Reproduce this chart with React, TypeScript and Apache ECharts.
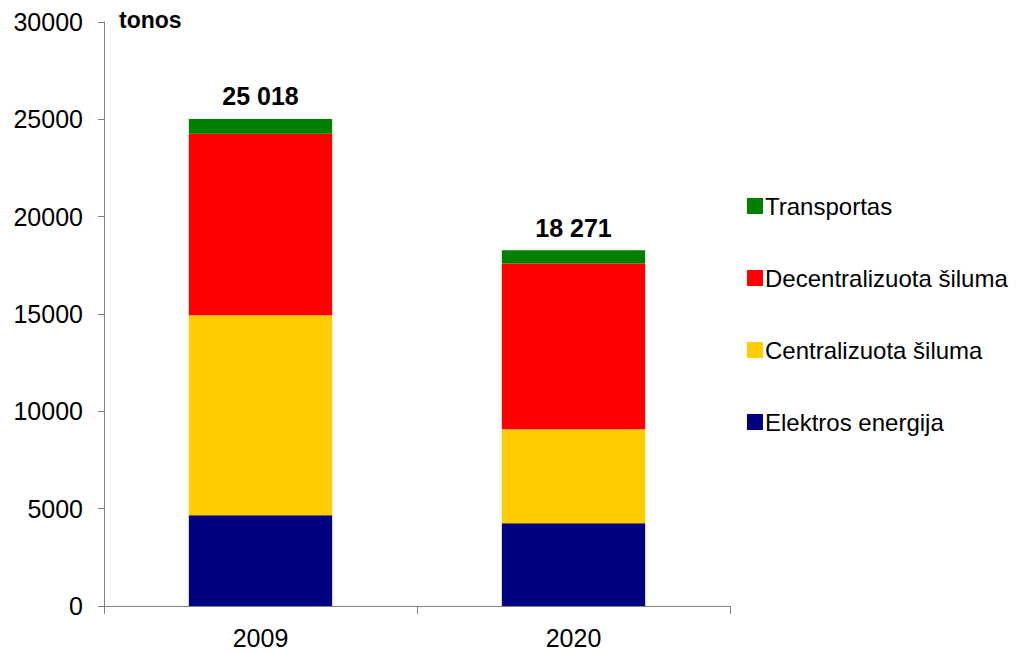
import React, { useEffect, useRef } from "react";
import * as echarts from "echarts";

const categories = ["2009", "2020"];
const elektros = [4660, 4250];
const centralizuota = [10270, 4825];
const decentralizuota = [9330, 8525];
const transportas = [758, 671];
const totals = [25018, 18271];
const yTicks = { min: 0, max: 30000, interval: 5000 };

const FONT = "'Liberation Sans', Arial, sans-serif";

export default function App() {
  const ref = useRef<HTMLDivElement>(null);
  useEffect(() => {
    if (!ref.current) return;
    const chart = echarts.init(ref.current, null, { renderer: "svg" });
    const fmt = (v: number) => String(v).replace(/\B(?=(\d{3})+(?!\d))/g, " ");
    chart.setOption({
      animation: false,
      backgroundColor: "#ffffff",
      textStyle: { fontFamily: FONT },
      grid: { left: 104, right: 293, top: 22, bottom: 47 },
      legend: {
        orient: "vertical",
        left: 742,
        top: 187,
        itemWidth: 16,
        itemHeight: 16,
        itemGap: 44,
        icon: "rect",
        data: ["Transportas", "Decentralizuota šiluma", "Centralizuota šiluma", "Elektros energija"],
        textStyle: { fontSize: 24, lineHeight: 28, color: "#000", fontFamily: FONT, padding: [0, 0, 0, -3] },
      },
      graphic: [
        {
          type: "text",
          left: 119,
          top: 8,
          style: { text: "tonos", font: `bold 23px ${FONT}`, fill: "#000" },
        },
      ],
      xAxis: {
        type: "category",
        data: categories,
        axisLine: { lineStyle: { color: "#808080", width: 1 } },
        axisTick: { show: true, alignWithLabel: false, length: 8, lineStyle: { color: "#808080" } },
        axisLabel: { fontSize: 25, color: "#000", margin: 19, fontFamily: FONT },
      },
      yAxis: {
        type: "value",
        min: yTicks.min,
        max: yTicks.max,
        interval: yTicks.interval,
        splitLine: { show: false },
        axisLine: { show: true, lineStyle: { color: "#808080", width: 1 } },
        axisTick: { show: true, length: 6, lineStyle: { color: "#808080" } },
        axisLabel: { fontSize: 25, color: "#000", margin: 21, fontFamily: FONT, formatter: (v: number) => String(v) },
      },
      series: [
        {
          name: "Elektros energija",
          type: "bar",
          stack: "total",
          barWidth: "45.8%",
          data: elektros,
          itemStyle: { color: "#000080" },
        },
        {
          name: "Centralizuota šiluma",
          type: "bar",
          stack: "total",
          data: centralizuota,
          itemStyle: { color: "#FFCC00" },
        },
        {
          name: "Decentralizuota šiluma",
          type: "bar",
          stack: "total",
          data: decentralizuota,
          itemStyle: { color: "#FF0000" },
        },
        {
          name: "Transportas",
          type: "bar",
          stack: "total",
          data: transportas,
          itemStyle: { color: "#008000" },
          label: {
            show: true,
            position: "top",
            distance: 10,
            formatter: (p: any) => fmt(totals[p.dataIndex]),
            fontSize: 25,
            fontWeight: "bold",
            color: "#000",
            fontFamily: FONT,
          },
        },
      ],
    });
    return () => chart.dispose();
  }, []);
  return <div ref={ref} style={{ width: 1023, height: 653, position: "absolute", left: 0, top: 0 }} />;
}
